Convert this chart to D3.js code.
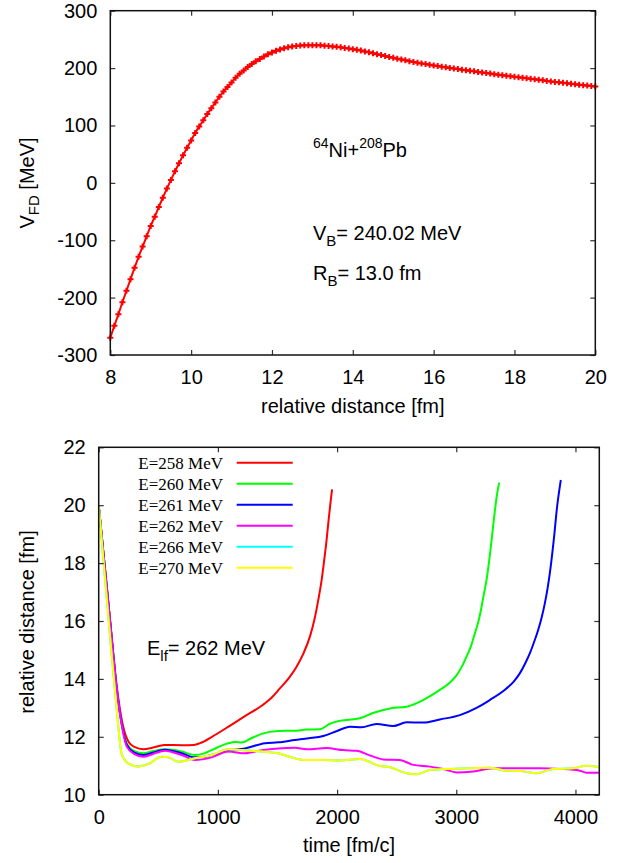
<!DOCTYPE html>
<html>
<head>
<meta charset="utf-8">
<script src="https://cdn.jsdelivr.net/npm/d3@7"></script>
<style>
  body { margin: 0; background: #fff; }
  text { font-family: "Liberation Sans", Arial, sans-serif; fill: #000; }
  .serif { font-family: "Liberation Serif", "Times New Roman", serif; }
</style>
</head>
<body>
<svg id="fig" width="627" height="863"></svg>
<script>
// ---- top panel: potential vs distance ----
const rGrid = [
  8.0, 8.1, 8.2, 8.3, 8.4, 8.5, 8.6, 8.7, 8.8, 8.9,
  9.0, 9.1, 9.2, 9.3, 9.4, 9.5, 9.6, 9.7, 9.8, 9.9,
  10.0, 10.1, 10.2, 10.3, 10.4, 10.5, 10.6, 10.7, 10.8, 10.9,
  11.0, 11.1, 11.2, 11.3, 11.4, 11.5, 11.6, 11.7, 11.8, 11.9,
  12.0, 12.1, 12.2, 12.3, 12.4, 12.5, 12.6, 12.7, 12.8, 12.9,
  13.0, 13.1, 13.2, 13.3, 13.4, 13.5, 13.6, 13.7, 13.8, 13.9,
  14.0, 14.1, 14.2, 14.3, 14.4, 14.5, 14.6, 14.7, 14.8, 14.9,
  15.0, 15.1, 15.2, 15.3, 15.4, 15.5, 15.6, 15.7, 15.8, 15.9,
  16.0, 16.1, 16.2, 16.3, 16.4, 16.5, 16.6, 16.7, 16.8, 16.9,
  17.0, 17.1, 17.2, 17.3, 17.4, 17.5, 17.6, 17.7, 17.8, 17.9,
  18.0, 18.1, 18.2, 18.3, 18.4, 18.5, 18.6, 18.7, 18.8, 18.9,
  19.0, 19.1, 19.2, 19.3, 19.4, 19.5, 19.6, 19.7, 19.8, 19.9,
  20.0
];
const vFD = [
  -270, -249, -229, -208, -188, -168, -148, -129, -111, -93,
  -75, -59, -42, -26, -10, 5, 20, 34, 48, 61,
  74, 87, 98, 109, 120, 130, 140, 150, 159, 167,
  175, 183, 190, 196, 202, 207, 212, 216, 220, 224,
  227, 230, 232.5, 234.5, 236.3, 237.7, 238.7, 239.4, 239.8, 240.0,
  240.0, 239.9, 239.6, 239.1, 238.5, 237.8, 237.0, 236.1, 235.1, 234.1,
  233.0, 231.8, 230.5, 229.1, 227.4, 225.8, 224.2, 222.6, 221.0, 219.4,
  217.8, 216.3, 214.9, 213.5, 212.1, 210.8, 209.5, 208.2, 207.0, 205.8,
  204.6, 203.5, 202.4, 201.3, 200.3, 199.3, 198.3, 197.3, 196.3, 195.3,
  194.3, 193.3, 192.3, 191.3, 190.4, 189.4, 188.5, 187.6, 186.7, 185.8,
  184.9, 184.0, 183.1, 182.2, 181.3, 180.4, 179.5, 178.6, 177.7, 176.8,
  175.9, 175.1, 174.3, 173.5, 172.7, 171.9, 171.1, 170.3, 169.5, 168.7,
  167.9
];
const topXTicks = [8, 10, 12, 14, 16, 18, 20];
const topYTicks = [-300, -200, -100, 0, 100, 200, 300];

// ---- bottom panel: trajectories ----
const energies = ["E=258 MeV", "E=260 MeV", "E=261 MeV", "E=262 MeV", "E=266 MeV", "E=270 MeV"];
const colors = ["#ff0000", "#00ff00", "#0000ff", "#ff00ff", "#00ffff", "#ffff00"];

const e258 = [[0,20],[50,17.95],[100,15.85],[150,13.8],[200,12.45],[250,11.83],[300,11.65],[375,11.57],[450,11.62],[550,11.72],[700,11.71],[800,11.72],[850,11.78],[950,12.0],[1100,12.38],[1230,12.72],[1370,13.08],[1450,13.35],[1520,13.67],[1600,14.05],[1660,14.42],[1720,14.9],[1772,15.46],[1810,16.05],[1842,16.72],[1870,17.4],[1892,18.1],[1912,18.8],[1929,19.49],[1945,20.1],[1958,20.55]];
const e260 = [[0,20],[50,17.9],[100,15.8],[150,13.7],[200,12.3],[235,11.78],[300,11.5],[374,11.43],[450,11.5],[556,11.57],[620,11.55],[696,11.49],[808,11.37],[880,11.42],[947,11.54],[1087,11.78],[1150,11.82],[1199,11.8],[1280,11.95],[1367,12.1],[1506,12.2],[1646,12.21],[1744,12.25],[1856,12.26],[1940,12.45],[2023,12.55],[2191,12.64],[2300,12.82],[2443,12.98],[2583,13.04],[2722,13.27],[2862,13.62],[2940,13.85],[3002,14.12],[3050,14.45],[3086,14.77],[3125,15.15],[3156,15.57],[3190,16.05],[3212,16.49],[3235,17.0],[3254,17.42],[3287,18.45],[3315,19.49],[3343,20.41],[3360,20.78]];
const e261 = [[0,20],[50,17.9],[100,15.8],[150,13.7],[200,12.3],[235,11.73],[300,11.45],[374,11.37],[450,11.45],[556,11.55],[696,11.43],[808,11.29],[880,11.3],[947,11.37],[1087,11.52],[1227,11.6],[1395,11.78],[1506,11.81],[1646,11.89],[1760,11.95],[1884,12.03],[2000,12.2],[2107,12.35],[2205,12.33],[2331,12.44],[2471,12.37],[2583,12.5],[2722,12.49],[2862,12.6],[3030,12.75],[3170,13.0],[3281,13.27],[3421,13.67],[3480,13.9],[3533,14.19],[3580,14.55],[3617,14.88],[3655,15.3],[3687,15.69],[3718,16.15],[3743,16.61],[3765,17.1],[3785,17.65],[3818,18.8],[3846,19.95],[3877,20.87]];
const e262 = [[0,20],[50,17.9],[100,15.8],[150,13.7],[200,12.25],[235,11.67],[300,11.4],[374,11.31],[450,11.4],[556,11.52],[696,11.37],[808,11.2],[947,11.29],[1087,11.49],[1227,11.43],[1367,11.54],[1506,11.6],[1646,11.62],[1744,11.57],[1912,11.61],[2051,11.54],[2163,11.52],[2280,11.35],[2387,11.22],[2527,11.2],[2638,11.03],[2778,10.97],[2900,10.88],[3002,10.77],[3142,10.8],[3309,10.91],[3533,10.91],[3701,10.91],[3869,10.89],[4037,10.83],[4092,10.76],[4200,10.76]];
const e266 = [[0,20],[50,17.6],[100,15.25],[150,13.0],[193,11.4],[248,11.08],[332,10.97],[416,11.06],[528,11.31],[584,11.29],[668,11.14],[808,11.26],[947,11.37],[1087,11.57],[1199,11.54],[1367,11.49],[1506,11.43],[1604,11.31],[1716,11.2],[1884,11.2],[2023,11.18],[2191,11.23],[2359,10.99],[2443,10.95],[2583,10.74],[2667,10.71],[2778,10.85],[2946,10.89],[3114,10.91],[3281,10.93],[3421,10.83],[3533,10.82],[3673,10.74],[3813,10.89],[3980,10.91],[4092,11.0],[4200,10.95]];
const e270 = [[0,20],[50,17.6],[100,15.25],[150,13.0],[193,11.4],[248,11.08],[332,10.97],[416,11.06],[528,11.31],[584,11.29],[668,11.14],[808,11.26],[947,11.37],[1087,11.57],[1199,11.54],[1367,11.49],[1506,11.43],[1604,11.31],[1716,11.2],[1884,11.2],[2023,11.18],[2191,11.23],[2359,10.99],[2443,10.95],[2583,10.74],[2667,10.71],[2778,10.85],[2946,10.89],[3114,10.91],[3281,10.93],[3421,10.83],[3533,10.82],[3673,10.74],[3813,10.89],[3980,10.91],[4092,11.0],[4200,10.95]];
const series = [e258, e260, e261, e262, e266, e270];
const botXTicks = [0, 1000, 2000, 3000, 4000];
const botYTicks = [10, 12, 14, 16, 18, 20, 22];

const svg = d3.select("#fig");
const plainNum = d => String(d);   // keep ASCII hyphen like gnuplot

function frameAxes(x, y, xt, yt) {
  const g = svg.append("g");
  const [x0, x1] = x.range(), [y0, y1] = y.range();
  g.append("g").attr("transform", `translate(0,${y0})`)
    .call(d3.axisBottom(x).tickValues(xt).tickSize(-5).tickPadding(15).tickFormat(plainNum));
  g.append("g").attr("transform", `translate(0,${y1})`)
    .call(d3.axisTop(x).tickValues(xt).tickSize(-5).tickFormat(""));
  g.append("g").attr("transform", `translate(${x0},0)`)
    .call(d3.axisLeft(y).tickValues(yt).tickSize(-5).tickPadding(13).tickFormat(plainNum));
  g.append("g").attr("transform", `translate(${x1},0)`)
    .call(d3.axisRight(y).tickValues(yt).tickSize(-5).tickFormat(""));
  g.selectAll(".domain").remove();
  g.selectAll(".tick line").attr("stroke", "#333").attr("stroke-width", 1.2);
  g.selectAll(".tick text").attr("font-size", 20).attr("font-family", "Liberation Sans, Arial, sans-serif").attr("fill", "#000");
  g.append("rect").attr("x", x0).attr("y", y1).attr("width", x1 - x0).attr("height", y0 - y1)
    .attr("fill", "none").attr("stroke", "#111").attr("stroke-width", 1.5);
  return g;
}

// top
const xT = d3.scaleLinear().domain([8, 20]).range([110.3, 595.3]);
const yT = d3.scaleLinear().domain([-300, 300]).range([355, 10.7]);
const topPts = rGrid.map((r, i) => [r, vFD[i]]);
svg.append("path").datum(topPts)
  .attr("fill", "none").attr("stroke", "#ff0000").attr("stroke-width", 2)
  .attr("d", d3.line().x(d => xT(d[0])).y(d => yT(d[1])).curve(d3.curveMonotoneX));
svg.append("g").selectAll("path").data(topPts).join("path")
  .attr("transform", d => `translate(${xT(d[0])},${yT(d[1])})`)
  .attr("d", "M-3,0H3M0,-3V3")
  .attr("stroke", "#ff0000").attr("stroke-width", 2);
frameAxes(xT, yT, topXTicks, topYTicks);

svg.append("text").attr("x", 352.8).attr("y", 413).attr("text-anchor", "middle").attr("font-size", 20)
  .text("relative distance [fm]");
const tyl = svg.append("text").attr("transform", "translate(34,183) rotate(-90)")
  .attr("text-anchor", "middle").attr("font-size", 20);
tyl.append("tspan").text("V");
tyl.append("tspan").attr("font-size", 15).attr("dy", 5).text("FD");
tyl.append("tspan").attr("dy", -5).text(" [MeV]");

const t1 = svg.append("text").attr("x", 313).attr("y", 157).attr("font-size", 20);
t1.append("tspan").attr("font-size", 14).attr("dy", -9).text("64");
t1.append("tspan").attr("dy", 9).text("Ni+");
t1.append("tspan").attr("font-size", 14).attr("dy", -9).text("208");
t1.append("tspan").attr("dy", 9).text("Pb");
const t2 = svg.append("text").attr("x", 313).attr("y", 240).attr("font-size", 20);
t2.append("tspan").text("V");
t2.append("tspan").attr("font-size", 15).attr("dy", 6).text("B");
t2.append("tspan").attr("dy", -6).text("= 240.02 MeV");
const t3 = svg.append("text").attr("x", 313).attr("y", 280).attr("font-size", 20);
t3.append("tspan").text("R");
t3.append("tspan").attr("font-size", 15).attr("dy", 6).text("B");
t3.append("tspan").attr("dy", -6).text("= 13.0 fm");

// bottom
const xB = d3.scaleLinear().domain([0, 4200]).range([98.7, 599.3]);
const yB = d3.scaleLinear().domain([10, 22]).range([794.7, 447.3]);
svg.append("clipPath").attr("id", "clipB").append("rect")
  .attr("x", 98.7).attr("y", 447.3).attr("width", 500.6).attr("height", 347.4);
const lineB = d3.line().x(d => xB(d[0])).y(d => yB(d[1])).curve(d3.curveMonotoneX);
svg.append("g").attr("clip-path", "url(#clipB)").selectAll("path").data(series).join("path")
  .attr("fill", "none").attr("stroke", (d, i) => colors[i]).attr("stroke-width", 2)
  .attr("stroke-linejoin", "round").attr("d", lineB);
frameAxes(xB, yB, botXTicks, botYTicks);

const leg = svg.append("g");
energies.forEach((e, i) => {
  const yy = 462.7 + i * 21;
  leg.append("text").attr("class", "serif").attr("x", 223).attr("y", yy + 6)
    .attr("text-anchor", "end").attr("font-size", 17).text(e);
  leg.append("line").attr("x1", 236.7).attr("x2", 292.7).attr("y1", yy).attr("y2", yy)
    .attr("stroke", colors[i]).attr("stroke-width", 2);
});

const t4 = svg.append("text").attr("x", 147).attr("y", 655).attr("font-size", 20);
t4.append("tspan").text("E");
t4.append("tspan").attr("font-size", 15).attr("dy", 6).text("lf");
t4.append("tspan").attr("dy", -6).text("= 262 MeV");

svg.append("text").attr("x", 349).attr("y", 852).attr("text-anchor", "middle").attr("font-size", 20)
  .text("time [fm/c]");
svg.append("text").attr("transform", "translate(34,622) rotate(-90)")
  .attr("text-anchor", "middle").attr("font-size", 20).text("relative distance [fm]");
</script>
</body>
</html>
